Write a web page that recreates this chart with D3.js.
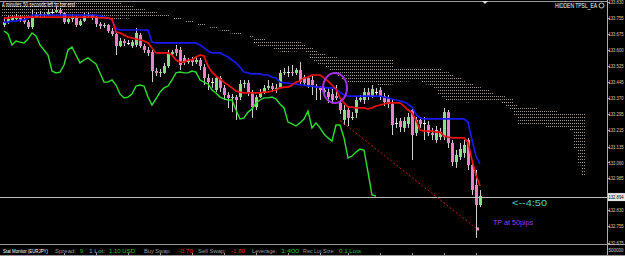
<!DOCTYPE html>
<html>
<head>
<meta charset="utf-8">
<script src="https://cdn.jsdelivr.net/npm/d3@7"></script>
<style>
  html, body { margin: 0; padding: 0; background: #000; overflow: hidden; }
  svg { display: block; font-family: "Liberation Sans", Arial, sans-serif; }
</style>
</head>
<body>
<script>
'use strict';

// EURJPY candles, oldest first
const opens = [
  133.720, 133.734, 133.744, 133.749, 133.758, 133.744, 133.734, 133.710, 133.758, 133.768,
  133.773, 133.768, 133.782, 133.782, 133.792, 133.778, 133.734, 133.749, 133.758, 133.720,
  133.739, 133.763, 133.768, 133.754, 133.725, 133.715, 133.720, 133.691, 133.677, 133.619,
  133.643, 133.634, 133.619, 133.624, 133.672, 133.619, 133.600, 133.590, 133.499, 133.490,
  133.490, 133.523, 133.581, 133.605, 133.600, 133.562, 133.542, 133.552, 133.542, 133.552,
  133.518, 133.466, 133.446, 133.408, 133.466, 133.418, 133.384, 133.370, 133.374, 133.374,
  133.437, 133.442, 133.394, 133.326, 133.374, 133.398, 133.418, 133.427, 133.413, 133.422,
  133.490, 133.494, 133.494, 133.490, 133.504, 133.470, 133.466, 133.456, 133.427, 133.418,
  133.408, 133.398, 133.389, 133.379, 133.346, 133.264, 133.312, 133.274, 133.298, 133.360,
  133.360, 133.398, 133.379, 133.398, 133.408, 133.379, 133.370, 133.341, 133.250, 133.259,
  133.226, 133.245, 133.312, 133.202, 133.264, 133.250, 133.240, 133.202, 133.168, 133.182,
  133.182, 133.302, 133.154, 133.062, 133.086, 133.106, 133.168, 133.048, 132.952, 132.856
];
const highs = [
  133.754, 133.763, 133.768, 133.773, 133.768, 133.754, 133.744, 133.792, 133.782, 133.787,
  133.782, 133.797, 133.797, 133.806, 133.802, 133.782, 133.758, 133.773, 133.763, 133.749,
  133.778, 133.778, 133.773, 133.763, 133.734, 133.730, 133.725, 133.706, 133.686, 133.658,
  133.653, 133.648, 133.648, 133.706, 133.682, 133.629, 133.614, 133.600, 133.514, 133.509,
  133.538, 133.600, 133.600, 133.624, 133.614, 133.576, 133.562, 133.566, 133.571, 133.562,
  133.533, 133.485, 133.466, 133.475, 133.475, 133.432, 133.398, 133.389, 133.384, 133.456,
  133.456, 133.456, 133.408, 133.384, 133.413, 133.432, 133.456, 133.442, 133.437, 133.504,
  133.514, 133.523, 133.528, 133.514, 133.542, 133.480, 133.475, 133.475, 133.437, 133.427,
  133.418, 133.418, 133.418, 133.432, 133.360, 133.336, 133.331, 133.302, 133.379, 133.384,
  133.418, 133.418, 133.432, 133.418, 133.422, 133.394, 133.384, 133.360, 133.274, 133.274,
  133.278, 133.298, 133.322, 133.278, 133.278, 133.278, 133.259, 133.226, 133.235, 133.226,
  133.322, 133.312, 133.168, 133.120, 133.154, 133.168, 133.178, 133.072, 133.024, 132.928
];
const lows = [
  133.710, 133.725, 133.734, 133.739, 133.734, 133.725, 133.701, 133.701, 133.754, 133.758,
  133.758, 133.763, 133.773, 133.778, 133.768, 133.725, 133.725, 133.734, 133.710, 133.715,
  133.734, 133.754, 133.744, 133.710, 133.701, 133.706, 133.682, 133.667, 133.576, 133.614,
  133.619, 133.624, 133.610, 133.614, 133.610, 133.586, 133.571, 133.446, 133.475, 133.470,
  133.485, 133.514, 133.571, 133.571, 133.504, 133.528, 133.533, 133.523, 133.533, 133.504,
  133.432, 133.408, 133.418, 133.398, 133.398, 133.360, 133.322, 133.302, 133.264, 133.360,
  133.418, 133.379, 133.274, 133.312, 133.370, 133.389, 133.408, 133.398, 133.394, 133.418,
  133.480, 133.470, 133.475, 133.480, 133.437, 133.427, 133.418, 133.384, 133.360, 133.360,
  133.379, 133.346, 133.341, 133.360, 133.293, 133.240, 133.235, 133.264, 133.274, 133.350,
  133.341, 133.360, 133.370, 133.384, 133.360, 133.331, 133.322, 133.192, 133.226, 133.206,
  133.206, 133.226, 133.072, 133.187, 133.226, 133.168, 133.187, 133.168, 133.154, 133.168,
  133.168, 133.130, 133.043, 133.034, 133.072, 133.082, 133.024, 132.904, 132.698, 132.846
];
const closes = [
  133.734, 133.749, 133.754, 133.758, 133.744, 133.734, 133.710, 133.758, 133.768, 133.773,
  133.768, 133.782, 133.782, 133.792, 133.778, 133.734, 133.749, 133.758, 133.720, 133.739,
  133.763, 133.768, 133.754, 133.725, 133.715, 133.720, 133.691, 133.677, 133.619, 133.643,
  133.634, 133.634, 133.638, 133.682, 133.619, 133.600, 133.586, 133.499, 133.490, 133.494,
  133.523, 133.581, 133.590, 133.586, 133.528, 133.542, 133.552, 133.542, 133.552, 133.523,
  133.466, 133.446, 133.446, 133.466, 133.418, 133.384, 133.370, 133.374, 133.360, 133.437,
  133.442, 133.394, 133.326, 133.374, 133.398, 133.418, 133.427, 133.413, 133.418, 133.490,
  133.494, 133.494, 133.490, 133.504, 133.446, 133.442, 133.432, 133.432, 133.418, 133.408,
  133.398, 133.374, 133.360, 133.370, 133.312, 133.312, 133.274, 133.278, 133.360, 133.370,
  133.398, 133.379, 133.413, 133.398, 133.379, 133.350, 133.341, 133.240, 133.250, 133.230,
  133.259, 133.278, 133.192, 133.264, 133.245, 133.250, 133.202, 133.192, 133.216, 133.206,
  133.302, 133.154, 133.062, 133.096, 133.125, 133.144, 133.048, 132.928, 132.856, 132.899
];

// ichimoku lines, one value per candle
const tenkan = [
  133.754, 133.754, 133.758, 133.758, 133.758, 133.758, 133.758, 133.758, 133.758, 133.758,
  133.758, 133.758, 133.758, 133.758, 133.758, 133.758, 133.758, 133.758, 133.758, 133.758,
  133.758, 133.758, 133.758, 133.758, 133.754, 133.754, 133.754, 133.749, 133.686, 133.682,
  133.672, 133.662, 133.658, 133.653, 133.648, 133.643, 133.634, 133.610, 133.586, 133.586,
  133.586, 133.586, 133.576, 133.552, 133.542, 133.542, 133.552, 133.552, 133.566, 133.576,
  133.571, 133.523, 133.494, 133.475, 133.461, 133.446, 133.432, 133.418, 133.403, 133.398,
  133.394, 133.394, 133.394, 133.394, 133.394, 133.398, 133.398, 133.403, 133.408, 133.418,
  133.422, 133.422, 133.432, 133.446, 133.451, 133.466, 133.470, 133.480, 133.480, 133.480,
  133.466, 133.451, 133.432, 133.413, 133.370, 133.346, 133.326, 133.326, 133.322, 133.322,
  133.322, 133.317, 133.322, 133.331, 133.336, 133.341, 133.346, 133.346, 133.346, 133.346,
  133.331, 133.312, 133.298, 133.264, 133.216, 133.211, 133.211, 133.211, 133.206, 133.206,
  133.187, 133.182, 133.178, 133.178, 133.178, 133.178, 133.158, 133.072, 133.000, 132.947
];
const kijun = [
  133.734, 133.734, 133.739, 133.739, 133.744, 133.744, 133.754, 133.768, 133.768, 133.768,
  133.768, 133.768, 133.768, 133.768, 133.768, 133.768, 133.768, 133.768, 133.768, 133.768,
  133.768, 133.768, 133.768, 133.768, 133.763, 133.758, 133.754, 133.744, 133.701, 133.696,
  133.696, 133.696, 133.696, 133.696, 133.696, 133.696, 133.696, 133.638, 133.634, 133.634,
  133.634, 133.634, 133.634, 133.634, 133.634, 133.634, 133.634, 133.634, 133.634, 133.624,
  133.610, 133.595, 133.586, 133.586, 133.586, 133.576, 133.566, 133.552, 133.538, 133.518,
  133.494, 133.490, 133.485, 133.485, 133.485, 133.480, 133.480, 133.470, 133.466, 133.446,
  133.442, 133.442, 133.437, 133.437, 133.432, 133.432, 133.427, 133.427, 133.422, 133.422,
  133.422, 133.418, 133.418, 133.413, 133.398, 133.384, 133.379, 133.379, 133.379, 133.379,
  133.379, 133.379, 133.379, 133.379, 133.379, 133.374, 133.370, 133.365, 133.360, 133.355,
  133.350, 133.341, 133.326, 133.293, 133.274, 133.269, 133.269, 133.269, 133.269, 133.269,
  133.269, 133.269, 133.269, 133.269, 133.269, 133.269, 133.254, 133.168, 133.091, 133.053
];
// chikou span: closes drawn 26 bars back, starts at the first candle
const chikou = [
  133.691, 133.677, 133.624, 133.643, 133.638, 133.634, 133.653, 133.682, 133.667, 133.624,
  133.600, 133.576, 133.499, 133.490, 133.494, 133.528, 133.600, 133.614, 133.576, 133.538,
  133.552, 133.562, 133.547, 133.533, 133.490, 133.446, 133.446, 133.456, 133.432, 133.389,
  133.370, 133.374, 133.389, 133.427, 133.432, 133.427, 133.374, 133.336, 133.365, 133.398,
  133.418, 133.427, 133.456, 133.490, 133.494, 133.490, 133.490, 133.499, 133.494, 133.456,
  133.446, 133.437, 133.408, 133.394, 133.374, 133.365, 133.360, 133.360, 133.312, 133.269,
  133.274, 133.302, 133.317, 133.346, 133.360, 133.370, 133.370, 133.374, 133.365, 133.341,
  133.322, 133.254, 133.245, 133.235, 133.250, 133.269, 133.307, 133.226, 133.250, 133.226,
  133.197, 133.178, 133.163, 133.240, 133.240, 133.178, 133.082, 133.091, 133.110, 133.125,
  133.120, 133.014, 132.904, 132.899
];
// senkou spans, from the first candle to 26 bars past the last one
const spanA = [
  133.754, 133.754, 133.754, 133.754, 133.754, 133.754, 133.754, 133.754, 133.754, 133.754,
  133.754, 133.754, 133.754, 133.754, 133.758, 133.758, 133.758, 133.758, 133.758, 133.763,
  133.763, 133.763, 133.763, 133.763, 133.763, 133.763, 133.744, 133.744, 133.749, 133.749,
  133.751, 133.751, 133.756, 133.763, 133.763, 133.763, 133.763, 133.763, 133.763, 133.763,
  133.763, 133.758, 133.754, 133.749, 133.744, 133.739, 133.734, 133.730, 133.725, 133.720,
  133.715, 133.710, 133.706, 133.701, 133.694, 133.689, 133.684, 133.679, 133.677, 133.674,
  133.672, 133.670, 133.665, 133.624, 133.610, 133.610, 133.610, 133.610, 133.605, 133.593,
  133.588, 133.588, 133.593, 133.593, 133.598, 133.600, 133.590, 133.559, 133.540, 133.530,
  133.523, 133.511, 133.499, 133.485, 133.470, 133.458, 133.444, 133.442, 133.439, 133.439,
  133.439, 133.439, 133.437, 133.437, 133.432, 133.432, 133.432, 133.434, 133.442, 133.442,
  133.449, 133.449, 133.454, 133.451, 133.451, 133.444, 133.434, 133.425, 133.413, 133.384,
  133.365, 133.353, 133.350, 133.350, 133.350, 133.350, 133.348, 133.350, 133.355, 133.358,
  133.358, 133.358, 133.355, 133.353, 133.350, 133.341, 133.326, 133.312, 133.278, 133.245,
  133.240, 133.238, 133.238, 133.238, 133.238, 133.238, 133.228, 133.226, 133.223, 133.223,
  133.223, 133.223, 133.206, 133.120, 133.046, 133.000
];
const spanB = [
  133.816, 133.816, 133.816, 133.816, 133.816, 133.821, 133.821, 133.821, 133.821, 133.821,
  133.826, 133.826, 133.826, 133.826, 133.826, 133.826, 133.830, 133.830, 133.830, 133.830,
  133.830, 133.830, 133.830, 133.830, 133.830, 133.830, 133.830, 133.830, 133.830, 133.826,
  133.821, 133.816, 133.811, 133.806, 133.802, 133.797, 133.792, 133.787, 133.782, 133.778,
  133.773, 133.768, 133.763, 133.758, 133.754, 133.749, 133.744, 133.739, 133.734, 133.730,
  133.725, 133.720, 133.715, 133.710, 133.706, 133.701, 133.696, 133.691, 133.686, 133.682,
  133.677, 133.672, 133.667, 133.662, 133.658, 133.653, 133.648, 133.643, 133.643, 133.643,
  133.643, 133.643, 133.643, 133.643, 133.643, 133.629, 133.619, 133.610, 133.600, 133.590,
  133.581, 133.576, 133.571, 133.566, 133.562, 133.562, 133.562, 133.562, 133.562, 133.562,
  133.562, 133.562, 133.562, 133.562, 133.562, 133.562, 133.562, 133.562, 133.514, 133.514,
  133.514, 133.514, 133.514, 133.514, 133.514, 133.514, 133.514, 133.514, 133.514, 133.514,
  133.504, 133.494, 133.485, 133.475, 133.466, 133.456, 133.446, 133.437, 133.427, 133.422,
  133.418, 133.408, 133.398, 133.389, 133.384, 133.379, 133.374, 133.370, 133.341, 133.331,
  133.322, 133.322, 133.322, 133.322, 133.317, 133.317, 133.312, 133.312, 133.307, 133.302,
  133.302, 133.298, 133.298, 133.298, 133.298, 133.298
];

const priceTicks = [133.830, 133.755, 133.675, 133.600, 133.525, 133.445, 133.370, 133.295,
  133.215, 133.135, 133.060, 132.985, 132.830, 132.755, 132.675];
const bidPrice = 132.894;
const timeTickBars = [15, 23, 31, 39, 47, 55, 63, 71, 79, 86, 94, 102, 110, 118];

// annotations drawn by hand on the chart
const circleBar = 82.75, circlePrice = 133.418;
const tpLineBars = [84, 118.25];
const tpLinePrices = [133.262, 132.741];

const statusParts = [
  ["Stat Monitor (EURJPY)", "#ffffff", 3, 45, 5],
  ["Spread:", "#9a9a9a", 55, 21, 6], ["9", "#22c322", 80, 3, 6],
  ["1 Lot:", "#9a9a9a", 89, 16, 6], ["1.10 USD", "#22c322", 109, 26, 6],
  ["Buy Swap:", "#9a9a9a", 144, 27, 6], ["-0.70", "#e02222", 178, 15, 6],
  ["Sell Swap:", "#9a9a9a", 198, 28, 6], ["-1.80", "#e02222", 231, 14, 6],
  ["Leverage:", "#9a9a9a", 252, 25, 6], ["1:400", "#22c322", 281, 18, 6],
  ["Rec Lot Size:", "#9a9a9a", 303, 32, 6], ["0.1 Lots", "#22c322", 339, 22, 6]
];

const W = 625, H = 256, axisX = 607;

const svg = d3.select('body').append('svg')
  .attr('width', W).attr('height', H)
  .style('background', '#000');

const xs = d3.scaleLinear().domain([0, 1]).range([4, 8]);
const ys = d3.scaleLinear().domain([132.688, 133.840]).range([240, 0]);

// dotted fills for the kumo, one per cloud colour
const defs = svg.append('defs');
[['kumoDown', '#a8968c'], ['kumoUp', '#b4b0bc']].forEach(p => {
  const pat = defs.append('pattern')
    .attr('id', p[0]).attr('patternUnits', 'userSpaceOnUse')
    .attr('width', 2).attr('height', 3);
  pat.append('rect').attr('width', 1).attr('height', 1).attr('fill', p[1]);
});

const plot = svg.append('g');

// kumo, one cell per bar between the two spans
const kumo = plot.append('g');
spanA.forEach((a, j) => {
  const b = spanB[j];
  const top = ys(Math.max(a, b)), bottom = ys(Math.min(a, b));
  kumo.append('rect')
    .attr('x', xs(j) - 2).attr('width', 4)
    .attr('y', top).attr('height', Math.max(1, bottom - top))
    .attr('fill', b > a ? 'url(#kumoDown)' : 'url(#kumoUp)');
});

// candles
const candles = plot.append('g');
closes.forEach((c, i) => {
  const o = opens[i];
  const cx = xs(i);
  candles.append('line')
    .attr('x1', cx + 0.5).attr('x2', cx + 0.5)
    .attr('y1', ys(highs[i])).attr('y2', ys(lows[i]))
    .attr('stroke', '#cfcfcf').attr('stroke-width', 1);
  if (c === o) {
    candles.append('line')
      .attr('x1', cx - 1).attr('x2', cx + 2)
      .attr('y1', Math.round(ys(c)) + 0.5).attr('y2', Math.round(ys(c)) + 0.5)
      .attr('stroke', '#ffffff');
  } else {
    const y0 = ys(Math.max(o, c)), y1 = ys(Math.min(o, c));
    candles.append('rect')
      .attr('x', cx - 1).attr('width', 3)
      .attr('y', y0).attr('height', Math.max(1, y1 - y0))
      .attr('fill', c > o ? '#86e086' : '#ee80c8');
  }
});

const line = d3.line().x((d, i) => xs(i)).y(d => ys(d));

plot.append('path').datum(chikou).attr('d', line)
  .attr('fill', 'none').attr('stroke', '#2ee02e').attr('stroke-width', 1.4);
plot.append('path').datum(kijun).attr('d', line)
  .attr('fill', 'none').attr('stroke', '#1818f0').attr('stroke-width', 1.7);
plot.append('path').datum(tenkan).attr('d', line)
  .attr('fill', 'none').attr('stroke', '#ee1010').attr('stroke-width', 1.7);

// bid line
svg.append('line')
  .attr('x1', 0).attr('x2', axisX)
  .attr('y1', Math.round(ys(bidPrice)) + 0.5).attr('y2', Math.round(ys(bidPrice)) + 0.5)
  .attr('stroke', '#bdbdbd').attr('stroke-width', 1);

// trade annotations
svg.append('line')
  .attr('x1', xs(tpLineBars[0])).attr('y1', ys(tpLinePrices[0]))
  .attr('x2', xs(tpLineBars[1])).attr('y2', ys(tpLinePrices[1]))
  .attr('stroke', '#c42020').attr('stroke-width', 1)
  .attr('stroke-dasharray', '2,2');
svg.append('rect')
  .attr('x', xs(tpLineBars[1]) - 1).attr('y', ys(tpLinePrices[1]) - 1.5)
  .attr('width', 3).attr('height', 3)
  .attr('fill', '#f0a0c8');
svg.append('ellipse')
  .attr('cx', xs(circleBar)).attr('cy', ys(circlePrice))
  .attr('rx', 12).attr('ry', 15)
  .attr('fill', 'none').attr('stroke', '#a030e0').attr('stroke-width', 2);

svg.append('text')
  .attr('x', 512).attr('y', 206)
  .attr('textLength', 35).attr('lengthAdjust', 'spacingAndGlyphs')
  .style('font-size', '9px').attr('fill', '#4fd0c4')
  .text('<--4:50');
svg.append('text')
  .attr('x', 493).attr('y', 225)
  .attr('textLength', 40).attr('lengthAdjust', 'spacingAndGlyphs')
  .style('font-size', '7px').attr('fill', '#a238e6')
  .text('TP at 50pips');

// frame
svg.append('line').attr('x1', 0).attr('x2', axisX).attr('y1', 1.5).attr('y2', 1.5)
  .attr('stroke', '#9a9a9a');
svg.append('path')
  .attr('d', 'M482,1 L488,1 L485,4 Z').attr('fill', '#e0e0e0');
svg.append('line').attr('x1', axisX + 0.5).attr('x2', axisX + 0.5).attr('y1', 0).attr('y2', H)
  .attr('stroke', '#b0b0b0');
svg.append('line').attr('x1', 0).attr('x2', W).attr('y1', 244.5).attr('y2', 244.5)
  .attr('stroke', '#9a9a9a');
svg.append('line').attr('x1', 0).attr('x2', W).attr('y1', 255.5).attr('y2', 255.5)
  .attr('stroke', '#9a9a9a');
timeTickBars.forEach(b => {
  svg.append('line').attr('x1', xs(b) + 0.5).attr('x2', xs(b) + 0.5)
    .attr('y1', 253).attr('y2', 256).attr('stroke', '#9a9a9a');
});

// price axis
const ticks = svg.append('g');
priceTicks.forEach(p => {
  const y = ys(p);
  ticks.append('line').attr('x1', axisX).attr('x2', axisX + 3)
    .attr('y1', Math.round(y) + 0.5).attr('y2', Math.round(y) + 0.5)
    .attr('stroke', '#b0b0b0');
  ticks.append('text')
    .attr('x', 608.5).attr('y', y + 2)
    .attr('textLength', 15).attr('lengthAdjust', 'spacingAndGlyphs')
    .style('font-size', '4.6px').attr('fill', '#d0d0d0')
    .text(p.toFixed(3));
});
svg.append('rect')
  .attr('x', axisX + 1).attr('y', ys(bidPrice) - 4)
  .attr('width', W - axisX - 1).attr('height', 8)
  .attr('fill', '#e8e8e8');
svg.append('text')
  .attr('x', 608.5).attr('y', ys(bidPrice) + 2)
  .attr('textLength', 15).attr('lengthAdjust', 'spacingAndGlyphs')
  .style('font-size', '4.6px').attr('fill', '#000')
  .text(bidPrice.toFixed(3));
svg.append('text')
  .attr('x', 608.5).attr('y', 252)
  .attr('textLength', 15).attr('lengthAdjust', 'spacingAndGlyphs')
  .style('font-size', '4.6px').attr('fill', '#d0d0d0')
  .text('500000');

// labels
svg.append('text')
  .attr('x', 2).attr('y', 7)
  .attr('textLength', 73).attr('lengthAdjust', 'spacingAndGlyphs')
  .style('font-size', '6.5px').attr('fill', '#ffffff')
  .text('4 minutes 50 seconds left to bar end');
svg.append('text')
  .attr('x', 555).attr('y', 8)
  .attr('textLength', 42).attr('lengthAdjust', 'spacingAndGlyphs')
  .style('font-size', '6.5px').attr('fill', '#ffffff')
  .text('HIDDEN TPSL_EA');
svg.append('circle')
  .attr('cx', 601.5).attr('cy', 5.5).attr('r', 2.5)
  .attr('fill', 'none').attr('stroke', '#ffffff').attr('stroke-width', 0.8);

statusParts.forEach(s => {
  svg.append('text')
    .attr('x', s[2]).attr('y', 252.5)
    .attr('textLength', s[3]).attr('lengthAdjust', 'spacingAndGlyphs')
    .style('font-size', s[4] + 'px').attr('fill', s[1])
    .text(s[0]);
});
</script>
</body>
</html>
